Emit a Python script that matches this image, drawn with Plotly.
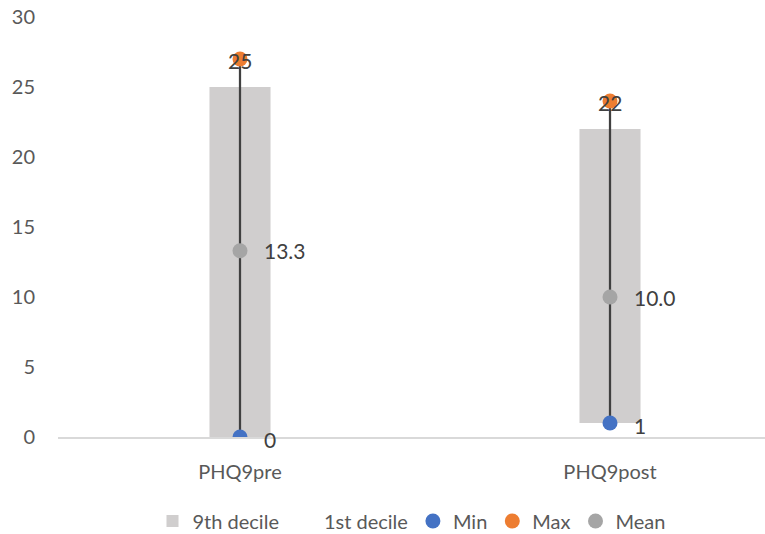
import plotly.graph_objects as go

categories = ["PHQ9pre", "PHQ9post"]
decile_1 = [0, 1]
decile_9 = [25, 22]
min_vals = [0, 1]
max_vals = [27, 24]
mean_vals = [13.3, 10.0]

y_ticks = [0, 5, 10, 15, 20, 25, 30]

FONT = "Lato"
TXT = "#595959"
xpos = list(range(len(categories)))
bar_w = 0.165

fig = go.Figure()

# Floating band from the 1st to the 9th decile
fig.add_trace(go.Bar(
    x=xpos, y=[b - a for a, b in zip(decile_1, decile_9)], base=decile_1,
    width=bar_w, name="9th decile",
    marker=dict(color="#D0CECE", line=dict(width=0)),
    hoverinfo="skip",
))
# Invisible base series
fig.add_trace(go.Bar(
    x=xpos, y=decile_1, base=[0] * len(decile_1),
    width=bar_w, name="1st decile",
    marker=dict(color="rgba(0,0,0,0)", line=dict(width=0)),
    hoverinfo="skip",
))

# Min–max range lines
lx, ly = [], []
for i, (lo, hi) in enumerate(zip(min_vals, max_vals)):
    lx += [i, i, None]
    ly += [lo, hi, None]
fig.add_trace(go.Scatter(
    x=lx, y=ly, mode="lines", line=dict(color="#404040", width=2.25),
    showlegend=False, hoverinfo="skip",
))

mk = 15
fig.add_trace(go.Scatter(
    x=xpos, y=min_vals, mode="markers", name="Min",
    marker=dict(color="#4472C4", size=mk),
))
fig.add_trace(go.Scatter(
    x=xpos, y=max_vals, mode="markers", name="Max",
    marker=dict(color="#ED7D31", size=mk),
))
fig.add_trace(go.Scatter(
    x=xpos, y=mean_vals, mode="markers", name="Mean",
    marker=dict(color="#A5A5A5", size=mk),
))

lab_font = dict(family=FONT, size=21, color="#404040")
ann = []
for i in xpos:
    ann.append(dict(x=i, y=max_vals[i], text=f"{decile_9[i]}", showarrow=False,
                    xanchor="center", yanchor="middle", yshift=-1, font=lab_font))
    ann.append(dict(x=i, y=min_vals[i], text=f"{min_vals[i]}", showarrow=False,
                    xanchor="left", yanchor="middle", xshift=22, yshift=-2, font=lab_font))
    ann.append(dict(x=i, y=mean_vals[i], text=f"{mean_vals[i]:.1f}", showarrow=False,
                    xanchor="left", yanchor="middle", xshift=22, font=lab_font))

fig.update_layout(
    width=765, height=534,
    margin=dict(l=58, r=0, t=17, b=97, autoexpand=False),
    paper_bgcolor="white", plot_bgcolor="white",
    font=dict(family=FONT, size=20, color=TXT),
    barmode="overlay",
    annotations=ann,
    legend=dict(orientation="h", x=0.5, xanchor="center", y=-0.2, yanchor="middle",
                font=dict(family=FONT, size=20, color=TXT), itemwidth=30,
                traceorder="normal"),
    showlegend=True,
)
fig.update_xaxes(
    range=[-0.4919, 1.4189], tickvals=xpos, ticktext=categories,
    showline=True, linecolor="#D9D9D9", linewidth=1.5, showgrid=False,
    zeroline=False, ticks="", tickfont=dict(size=20, color=TXT),
    ticklabelstandoff=16, automargin=False,
)
fig.update_yaxes(
    range=[0, 30], tickvals=y_ticks, showgrid=False, zeroline=False,
    showline=False, ticks="", tickfont=dict(size=20, color=TXT),
    ticklabelstandoff=22, automargin=False,
)

fig.write_html("out.html")
